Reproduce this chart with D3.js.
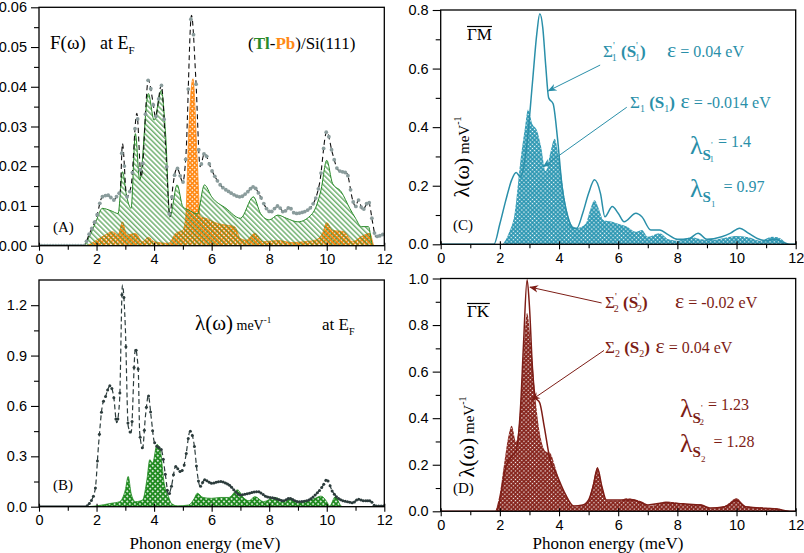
<!DOCTYPE html>
<html><head><meta charset="utf-8">
<script src="https://cdn.jsdelivr.net/npm/d3@7"></script>
<style>body{margin:0;background:#fff}text{white-space:pre}</style>
</head><body>
<script>
// ---------- data ----------
const xTicks = [0,2,4,6,8,10,12];
const xMinor = [1,3,5,7,9,11];
const aYTicks = [0,0.01,0.02,0.03,0.04,0.05,0.06];
const aYMinor = [0.005,0.015,0.025,0.035,0.045,0.055];
const bYTicks = [0,0.3,0.6,0.9,1.2];
const bYMinor = [0.15,0.45,0.75,1.05];
const cYTicks = [0,0.2,0.4,0.6,0.8];
const cYMinor = [0.1,0.3,0.5,0.7];
const dYTicks = [0,0.2,0.4,0.6,0.8,1.0];
const dYMinor = [0.1,0.3,0.5,0.7,0.9];

// (A) F(omega): total, Tl partial, Pb partial
const aTotal = [[0,0],[1.55,0],[1.75,0.003],[2.0,0.0073],[2.2,0.0123],[2.4,0.0127],[2.6,0.0115],[2.75,0.013],[2.82,0.0135],[2.9,0.0257],[3.05,0.0123],[3.2,0.015],[3.4,0.0333],[3.55,0.0173],[3.8,0.0417],[3.95,0.0366],[4.05,0.0324],[4.25,0.0404],[4.4,0.025],[4.55,0.0073],[4.65,0.0148],[4.8,0.0195],[5.0,0.016],[5.1,0.022],[5.3,0.058],[5.45,0.042],[5.6,0.0199],[5.75,0.0232],[6.0,0.019],[6.3,0.0153],[6.6,0.0136],[7.0,0.0123],[7.2,0.0132],[7.45,0.0148],[7.7,0.0123],[7.9,0.0094],[8.05,0.0085],[8.3,0.01],[8.5,0.0085],[8.7,0.0096],[8.9,0.0081],[9.2,0.0085],[9.5,0.0102],[9.75,0.0157],[10.0,0.0287],[10.2,0.0232],[10.4,0.019],[10.7,0.0182],[10.9,0.0115],[11.0,0.0098],[11.1,0.0115],[11.25,0.009],[11.45,0.0111],[11.6,0.0056],[11.7,0.0023],[12,0.003]];
const aTl = [[0,0],[1.5,0],[1.8,0.003],[2.0,0.0065],[2.2,0.0094],[2.5,0.0088],[2.75,0.0081],[2.9,0.0186],[3.05,0.0123],[3.2,0.0094],[3.35,0.0282],[3.5,0.0165],[3.8,0.0383],[4.0,0.0316],[4.25,0.0391],[4.4,0.028],[4.55,0.0073],[4.8,0.0153],[5.0,0.0098],[5.2,0.009],[5.5,0.008],[5.75,0.0153],[6.0,0.0123],[6.5,0.0094],[7.0,0.0069],[7.45,0.0123],[7.7,0.0081],[8.0,0.0065],[8.3,0.0077],[8.6,0.0069],[9.0,0.006],[9.5,0.0081],[9.8,0.014],[10.0,0.0215],[10.2,0.0157],[10.5,0.0136],[10.8,0.0094],[11.0,0.0069],[11.2,0.0048],[11.45,0.0048],[11.6,0],[12,0]];
const aPb = [[0,0],[1.6,0],[2.0,0.0014],[2.3,0.0027],[2.55,0.0035],[2.75,0.0027],[2.9,0.006],[3.05,0.0027],[3.35,0.0031],[3.6,0.001],[3.8,0.0021],[4.0,0.001],[4.5,0.0006],[4.75,0.0031],[5.0,0.0039],[5.1,0.0073],[5.2,0.028],[5.35,0.042],[5.5,0.0215],[5.6,0.0073],[5.8,0.0069],[6.2,0.0056],[6.5,0.0052],[6.8,0.0048],[7.0,0.0018],[7.2,0.0014],[7.5,0.0031],[7.8,0.001],[8.3,0.0013],[8.8,0.0008],[9.2,0.001],[9.6,0.0014],[9.85,0.0031],[10.0,0.0058],[10.2,0.0039],[10.6,0.0035],[10.9,0.001],[11.2,0.0023],[11.5,0.0031],[11.65,0],[12,0]];

// (B) lambda(omega): total and green partial
const bTotal = [[0,0],[1.6,0],[1.75,0.02],[1.95,0.1],[2.07,0.37],[2.2,0.6],[2.3,0.65],[2.47,0.72],[2.6,0.65],[2.7,0.5],[2.8,0.63],[2.9,1.32],[3.0,1.07],[3.1,0.48],[3.2,0.44],[3.35,0.94],[3.45,0.81],[3.5,0.44],[3.6,0.35],[3.7,0.54],[3.8,0.66],[3.9,0.53],[4.0,0.39],[4.1,0.36],[4.25,0.34],[4.4,0.18],[4.5,0.07],[4.6,0.12],[4.75,0.24],[4.9,0.21],[5.0,0.22],[5.1,0.3],[5.25,0.45],[5.4,0.36],[5.5,0.2],[5.6,0.12],[5.75,0.16],[6.0,0.14],[6.3,0.15],[6.6,0.13],[7.0,0.07],[7.3,0.08],[7.6,0.09],[7.9,0.06],[8.2,0.05],[8.5,0.035],[8.7,0.05],[9.0,0.03],[9.3,0.035],[9.6,0.07],[9.85,0.12],[10.0,0.16],[10.2,0.09],[10.4,0.05],[10.7,0.03],[10.9,0.024],[11.1,0.044],[11.3,0.035],[11.5,0.035],[11.7,0.004],[12,0.005]];
const bPart = [[0,0],[1.5,0],[2.0,0.005],[2.5,0.02],[2.8,0.03],[3.0,0.1],[3.1,0.18],[3.2,0.08],[3.35,0.03],[3.6,0.04],[3.75,0.16],[3.85,0.28],[3.95,0.26],[4.1,0.37],[4.2,0.35],[4.35,0.14],[4.5,0.06],[4.6,0.02],[4.8,0.005],[5.2,0.01],[5.4,0.05],[5.5,0.08],[5.7,0.055],[6.0,0.05],[6.3,0.055],[6.6,0.055],[6.9,0.1],[7.1,0.055],[7.3,0.035],[7.5,0.06],[7.8,0.03],[8.2,0.055],[8.5,0.035],[8.7,0.05],[9.0,0.024],[9.3,0.035],[9.6,0.05],[9.8,0.063],[10.0,0.03],[10.1,0.004],[10.3,0.06],[10.5,0.004],[10.6,0],[12,0]];

// (C) Gamma-M: S1' line and S1 area
const cLine = [[0,0],[1.8,0],[2.0,0.07],[2.2,0.15],[2.4,0.22],[2.55,0.245],[2.7,0.23],[2.9,0.33],[3.1,0.55],[3.25,0.72],[3.35,0.787],[3.45,0.74],[3.55,0.61],[3.65,0.5],[3.8,0.48],[3.95,0.36],[4.1,0.2],[4.3,0.094],[4.5,0.055],[4.6,0.055],[4.8,0.106],[5.0,0.174],[5.2,0.22],[5.4,0.174],[5.55,0.094],[5.8,0.129],[6.0,0.106],[6.2,0.077],[6.6,0.106],[6.8,0.094],[7.1,0.049],[7.4,0.049],[7.7,0.032],[8.0,0.017],[8.4,0.02],[8.7,0.038],[9.0,0.017],[9.5,0.026],[9.8,0.038],[10.1,0.055],[10.4,0.038],[10.7,0.02],[11.0,0.0125],[11.3,0.017],[11.6,0.006],[11.8,0],[12,0]];
const cArea = [[2.1,0],[2.3,0.038],[2.5,0.106],[2.7,0.29],[2.85,0.4],[2.95,0.46],[3.1,0.41],[3.25,0.39],[3.4,0.33],[3.55,0.25],[3.7,0.31],[3.85,0.36],[4.0,0.29],[4.2,0.15],[4.4,0.07],[4.6,0.055],[4.9,0.07],[5.05,0.117],[5.2,0.15],[5.35,0.12],[5.5,0.083],[5.8,0.077],[6.0,0.07],[6.3,0.06],[6.6,0.043],[6.8,0.049],[7.0,0.026],[7.4,0.038],[7.7,0.017],[8.0,0.0125],[8.5,0.024],[8.8,0.017],[9.2,0.015],[9.7,0.024],[10.0,0.028],[10.4,0.024],[10.8,0.0125],[11.2,0.026],[11.4,0.024],[11.7,0]];

// (D) Gamma-K: S2' line and S2 area
const dLine = [[0,0],[1.9,0],[2.0,0.05],[2.2,0.19],[2.4,0.235],[2.55,0.26],[2.7,0.45],[2.8,0.72],[2.92,0.995],[3.0,0.88],[3.1,0.62],[3.2,0.49],[3.35,0.465],[3.5,0.364],[3.7,0.22],[3.9,0.164],[4.2,0.077],[4.5,0.023],[4.8,0.027],[5.0,0.049],[5.15,0.106],[5.3,0.185],[5.45,0.106],[5.6,0.049],[6.0,0.049],[6.5,0.049],[7.0,0.027],[7.6,0.037],[8.2,0.032],[8.8,0.027],[9.1,0.014],[9.6,0.02],[10.0,0.046],[10.3,0.02],[10.8,0.014],[11.4,0.009],[11.8,0],[12,0]];
const dArea = [[1.85,0],[2.0,0.077],[2.15,0.21],[2.3,0.33],[2.4,0.367],[2.55,0.3],[2.7,0.46],[2.8,0.68],[2.92,0.852],[3.05,0.72],[3.2,0.49],[3.35,0.336],[3.55,0.257],[3.7,0.25],[3.85,0.2],[4.0,0.135],[4.3,0.052],[4.55,0.02],[4.8,0.027],[5.0,0.049],[5.15,0.12],[5.3,0.19],[5.45,0.113],[5.6,0.046],[6.0,0.046],[6.3,0.056],[6.8,0.042],[7.1,0.023],[7.6,0.042],[8.0,0.037],[8.5,0.03],[8.8,0.03],[9.1,0.013],[9.6,0.023],[10.0,0.056],[10.3,0.023],[10.8,0.017],[11.3,0.014],[11.7,0.003],[11.9,0]];

// annotation arrows in data coords: [fromX, fromY, toX, toY]
const cArrows = [[5.39,0.612,3.64,0.524],[6.29,0.468,3.47,0.265]];
const dArrows = [[5.44,0.895,3.02,0.963],[5.52,0.691,3.08,0.479]];

// ---------- styles ----------
const SERIF = "Liberation Serif, Times New Roman, serif";
const SANS = "Liberation Sans, Arial, sans-serif";
const GREEN = "#2a8a2a", ORANGE = "#ff8a16", TEAL = "#2a8fa9", DRED = "#7d1d16";
const GREY = "#8a9c9c", DARK = "#2c3c3c";

const svg = d3.select("body").append("svg").attr("width",804).attr("height",553);
const defs = svg.append("defs");

function dotPattern(id, bg, size, r) {
  const p = defs.append("pattern").attr("id",id).attr("patternUnits","userSpaceOnUse")
    .attr("width",size).attr("height",size).attr("patternTransform","rotate(45)");
  p.append("rect").attr("width",size).attr("height",size).attr("fill",bg);
  p.append("circle").attr("cx",size/2).attr("cy",size/2).attr("r",r).attr("fill","#fff");
}
dotPattern("pOrange", ORANGE, 3.2, 0.85);
dotPattern("pGreenB", "#1f8a1f", 3.6, 1.0);
dotPattern("pTeal", "#2e98b3", 3.0, 0.75);
dotPattern("pRed", "#86241c", 3.0, 0.7);
{
  const p = defs.append("pattern").attr("id","pHatch").attr("patternUnits","userSpaceOnUse")
    .attr("width",3.6).attr("height",3.6).attr("patternTransform","rotate(-45)");
  p.append("line").attr("x1",0.8).attr("y1",0).attr("x2",0.8).attr("y2",3.6)
    .attr("stroke",GREEN).attr("stroke-width",1.0);
}
function marker(id, color) {
  defs.append("marker").attr("id",id).attr("viewBox","0 0 10 10").attr("refX",9).attr("refY",5)
    .attr("markerWidth",9).attr("markerHeight",9).attr("markerUnits","userSpaceOnUse").attr("orient","auto")
    .append("path").attr("d","M0,1 L10,5 L0,9 L3,5 Z").attr("fill",color);
}
marker("mTeal", TEAL); marker("mRed", DRED);

const panels = {
  A:{l:39,r:384.3,t:7.3,b:245.7,yd:[0,0.06],yt:aYTicks,ym:aYMinor,fmt:d3.format(".2f")},
  B:{l:39,r:384.3,t:280,b:506.7,yd:[0,1.35],yt:bYTicks,ym:bYMinor,fmt:d3.format(".1f")},
  C:{l:440.7,r:795.7,t:10,b:244.3,yd:[0,0.8],yt:cYTicks,ym:cYMinor,fmt:d3.format(".1f")},
  D:{l:440.7,r:795.7,t:278.5,b:511.3,yd:[0,1.0],yt:dYTicks,ym:dYMinor,fmt:d3.format(".1f")}
};

function setup(key) {
  const p = panels[key];
  p.x = d3.scaleLinear([0,12],[p.l,p.r]);
  p.y = d3.scaleLinear(p.yd,[p.b,p.t]);
  const g = svg.append("g");
  defs.append("clipPath").attr("id","clip"+key).append("rect")
    .attr("x",p.l).attr("y",p.t).attr("width",p.r-p.l).attr("height",p.b-p.t);
  p.g = g;
  p.plot = g.append("g").attr("clip-path",`url(#clip${key})`);
  return p;
}
function axes(p) {
  const g = p.g;
  const styleAxis = sel => { sel.select(".domain").remove();
    sel.selectAll("line").attr("stroke","#000").attr("stroke-width",1.1);
    sel.selectAll("text").attr("fill","#000").style("font-family",SANS).style("font-size","14.5px"); };
  g.append("g").attr("transform",`translate(0,${p.b})`)
    .call(d3.axisBottom(p.x).tickValues(xTicks).tickSize(5).tickPadding(3.5).tickFormat(d3.format("d"))).call(styleAxis);
  g.append("g").attr("transform",`translate(0,${p.b})`)
    .call(d3.axisBottom(p.x).tickValues(xTicks).tickSize(-3).tickFormat("")).call(styleAxis);
  g.append("g").attr("transform",`translate(0,${p.b})`)
    .call(d3.axisBottom(p.x).tickValues(xMinor).tickSize(4).tickFormat("")).call(styleAxis);
  g.append("g").attr("transform",`translate(${p.l},0)`)
    .call(d3.axisLeft(p.y).tickValues(p.yt).tickSize(8).tickPadding(4).tickFormat(p.fmt)).call(styleAxis);
  g.append("g").attr("transform",`translate(${p.l},0)`)
    .call(d3.axisLeft(p.y).tickValues(p.ym).tickSize(5).tickFormat("")).call(styleAxis);
  g.append("rect").attr("x",p.l).attr("y",p.t).attr("width",p.r-p.l).attr("height",p.b-p.t)
    .attr("fill","none").attr("stroke","#000").attr("stroke-width",1.3);
}
const areaGen = p => d3.area().x(d=>p.x(d[0])).y0(p.y(0)).y1(d=>p.y(d[1])).curve(d3.curveMonotoneX);
const lineGen = p => d3.line().x(d=>p.x(d[0])).y(d=>p.y(d[1])).curve(d3.curveMonotoneX);

function dotsAlong(p, pathSel, step, r, color) {
  const node = pathSel.node(); const L = node.getTotalLength();
  let next = p.l; const pts = [];
  for (let l = 0; l <= L; l += 0.4) {
    const q = node.getPointAtLength(l);
    if (q.x >= next) { pts.push([q.x,q.y]); next = q.x + step; }
  }
  p.plot.append("g").selectAll("circle").data(pts).join("circle")
    .attr("cx",d=>d[0]).attr("cy",d=>d[1]).attr("r",r).attr("fill",color);
}

function rich(x, y, segs, fill, anchor, transform) {
  const t = svg.append("text").attr("fill",fill).attr("font-family",SERIF);
  if (transform) t.attr("transform",transform); else t.attr("x",x).attr("y",y);
  if (anchor) t.attr("text-anchor",anchor);
  segs.forEach(s => {
    const ts = t.append("tspan").text(s.t).attr("font-size",s.s);
    if (s.dy) ts.attr("dy",s.dy);
    if (s.dx) ts.attr("dx",s.dx);
    if (s.b) ts.attr("font-weight","bold");
    if (s.f) ts.attr("fill",s.f);
  });
  return t;
}
function overlined(x, y, str, color, size) {
  const t = svg.append("text").attr("x",x).attr("y",y).attr("fill",color)
    .attr("font-family",SERIF).attr("font-size",size).text(str);
  const bb = t.node().getBBox();
  svg.append("line").attr("x1",bb.x).attr("x2",bb.x+bb.width).attr("y1",bb.y+1.5).attr("y2",bb.y+1.5)
    .attr("stroke",color).attr("stroke-width",1.2);
}
function arrows(p, list, color, mid) {
  p.g.selectAll(null).data(list).join("line")
    .attr("x1",d=>p.x(d[0])).attr("y1",d=>p.y(d[1])).attr("x2",d=>p.x(d[2])).attr("y2",d=>p.y(d[3]))
    .attr("stroke",color).attr("stroke-width",1).attr("marker-end",`url(#${mid})`);
}

// ---------- Panel A ----------
{
  const p = setup("A");
  p.plot.append("path").datum(aPb).attr("d",areaGen(p)).attr("fill","url(#pOrange)");
  p.plot.append("path").datum(aPb).attr("d",lineGen(p)).attr("fill","none").attr("stroke",ORANGE).attr("stroke-width",0.8);
  p.plot.append("path").datum(aTl).attr("d",areaGen(p)).attr("fill","url(#pHatch)");
  p.plot.append("path").datum(aTl).attr("d",lineGen(p)).attr("fill","none").attr("stroke",GREEN).attr("stroke-width",1);
  const tl = p.plot.append("path").datum(aTotal).attr("d",lineGen(p)).attr("fill","none")
    .attr("stroke","#111").attr("stroke-width",1.1).attr("stroke-dasharray","5,3.5");
  dotsAlong(p, tl, 2.6, 1.9, GREY);
  axes(p);
  rich(50,49,[{t:"F(ω)",s:19}],"#000");
  rich(100,49,[{t:"at E",s:18},{t:"F",s:11,dy:5}],"#000");
  rich(248,49,[{t:"(",s:17},{t:"Tl",s:17,b:1,f:GREEN},{t:"-",s:17},{t:"Pb",s:17,b:1,f:ORANGE},{t:")/Si(111)",s:17}],"#000");
  rich(53,232,[{t:"(A)",s:15}],"#000");
}
// ---------- Panel B ----------
{
  const p = setup("B");
  p.plot.append("path").datum(bPart).attr("d",areaGen(p)).attr("fill","url(#pGreenB)");
  p.plot.append("path").datum(bPart).attr("d",lineGen(p)).attr("fill","none").attr("stroke","#1f8a1f").attr("stroke-width",0.8);
  const tl = p.plot.append("path").datum(bTotal).attr("d",lineGen(p)).attr("fill","none")
    .attr("stroke",DARK).attr("stroke-width",1.2).attr("stroke-dasharray","5,3");
  dotsAlong(p, tl, 2.0, 1.5, DARK);
  axes(p);
  rich(195,330,[{t:"λ(ω)",s:21},{t:" meV",s:14},{t:"-1",s:9,dy:-7}],"#000");
  rich(322,330,[{t:"at E",s:17},{t:"F",s:10,dy:5}],"#000");
  rich(53,490,[{t:"(B)",s:15}],"#000");
  rich(205,548.5,[{t:"Phonon energy (meV)",s:17}],"#000","middle");
}
// ---------- Panel C ----------
{
  const p = setup("C");
  p.plot.append("path").datum(cArea).attr("d",areaGen(p)).attr("fill","url(#pTeal)");
  p.plot.append("path").datum(cLine).attr("d",lineGen(p)).attr("fill","none").attr("stroke",TEAL).attr("stroke-width",1.5);
  axes(p);
  arrows(p, cArrows, TEAL, "mTeal");
  overlined(467,40,"ΓM","#000",17);
  rich(603,57,[{t:"Σ",s:17},{t:"'",s:10,dy:-8},{t:"1",s:10,dx:-3,dy:12},{t:" (S",s:17,b:1,dy:-4},{t:"'",s:10,dy:-8},{t:"1",s:10,dx:-3,dy:12},{t:")",s:17,b:1,dy:-4}],TEAL);
  rich(667,57,[{t:"ε",s:22},{t:" = 0.04 eV",s:16}],TEAL);
  rich(630,108,[{t:"Σ",s:17},{t:"1",s:10,dy:4},{t:" (S",s:17,b:1,dy:-4},{t:"1",s:10,dy:4},{t:")",s:17,b:1,dy:-4},{t:" ε",s:22},{t:" = -0.014 eV",s:16}],TEAL);
  rich(690,154,[{t:"λ",s:26},{t:"S",s:15,b:1,dy:6},{t:"'",s:9,dy:-12},{t:"1",s:9,dx:-3,dy:14},{t:" = 1.4",s:16,dy:-15}],TEAL);
  rich(690,197,[{t:"λ",s:26},{t:"S",s:15,b:1,dy:5},{t:"1",s:9,dy:5},{t:"  = 0.97",s:16,dy:-15}],TEAL);
  rich(453,230,[{t:"(C)",s:15}],"#000");
  rich(0,0,[{t:"λ(ω)",s:22},{t:" meV",s:15},{t:"-1",s:10,dy:-8}],"#000","middle","translate(469,157) rotate(-90)");
}
// ---------- Panel D ----------
{
  const p = setup("D");
  p.plot.append("path").datum(dArea).attr("d",areaGen(p)).attr("fill","url(#pRed)");
  p.plot.append("path").datum(dLine).attr("d",lineGen(p)).attr("fill","none").attr("stroke",DRED).attr("stroke-width",1.5);
  axes(p);
  arrows(p, dArrows, DRED, "mRed");
  overlined(467,317,"ΓK","#000",17);
  rich(605,308,[{t:"Σ",s:17},{t:"'",s:10,dy:-8},{t:"2",s:10,dx:-3,dy:12},{t:" (S",s:17,b:1,dy:-4},{t:"'",s:10,dy:-8},{t:"2",s:10,dx:-3,dy:12},{t:")",s:17,b:1,dy:-4}],DRED);
  rich(675,308,[{t:"ε",s:22},{t:" = -0.02 eV",s:16}],DRED);
  rich(605,353,[{t:"Σ",s:17},{t:"2",s:10,dy:4},{t:" (S",s:17,b:1,dy:-4},{t:"2",s:10,dy:4},{t:")",s:17,b:1,dy:-4},{t:" ε",s:22},{t:" = 0.04 eV",s:16}],DRED);
  rich(680,417,[{t:"λ",s:26},{t:"S",s:15,b:1,dy:6},{t:"'",s:9,dy:-12},{t:"2",s:9,dx:-3,dy:14},{t:" = 1.23",s:16,dy:-15}],DRED);
  rich(680,452,[{t:"λ",s:26},{t:"S",s:15,b:1,dy:5},{t:"2",s:9,dy:5},{t:"  = 1.28",s:16,dy:-15}],DRED);
  rich(453,493,[{t:"(D)",s:15}],"#000");
  rich(0,0,[{t:"λ(ω)",s:22},{t:" meV",s:15},{t:"-1",s:10,dy:-8}],"#000","middle","translate(474,437) rotate(-90)");
  rich(608,548.5,[{t:"Phonon energy (meV)",s:17}],"#000","middle");
}
</script>
</body></html>
